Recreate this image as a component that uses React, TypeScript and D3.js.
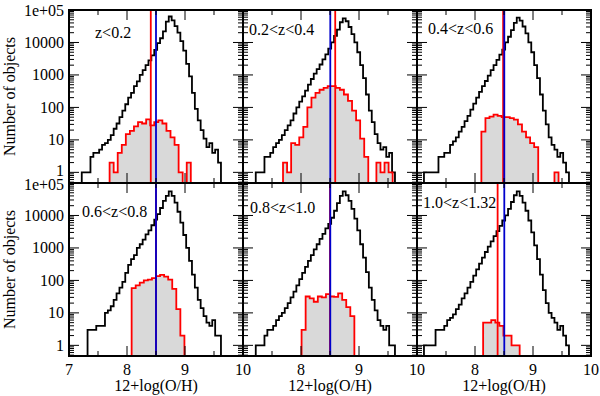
import React from 'react';
import * as d3 from 'd3';

// ---------- data ----------
const zLabels = ['z<0.2', '0.2<z<0.4', '0.4<z<0.6', '0.6<z<0.8', '0.8<z<1.0', '1.0<z<1.32'];

const blackBin = 0.05;
const blackStarts = [7.22, 7.22, 7.12, 7.22, 7.22, 7.12];
const black1 = [1, 1, 1, 3, 4, 4, 5, 7, 8, 10, 14, 22, 32, 50, 80, 125, 200, 280, 450, 630, 1000, 1400, 2000, 2800, 4000, 5900, 9500, 13500, 22000, 44000, 63000, 48000, 32000, 20000, 11000, 5600, 2200, 900, 280, 90, 40, 20, 11, 6, 8, 4, 5, 2];
const black2 = [1, 1, 1, 3, 3, 4, 6, 8, 10, 14, 20, 28, 40, 65, 100, 150, 220, 330, 500, 750, 1100, 1500, 2100, 3000, 4300, 6500, 10000, 16000, 25000, 42000, 55000, 45000, 30000, 18000, 10000, 5000, 2000, 800, 250, 80, 35, 15, 8, 5, 6, 3, 4, 1];
const black3 = [1, 1, 1, 1, 1, 3, 3, 4, 4, 7, 9, 12, 18, 25, 38, 55, 85, 130, 200, 300, 450, 650, 950, 1400, 2000, 2900, 4200, 6000, 10000, 15000, 24000, 40000, 58000, 47000, 31000, 19000, 10000, 5000, 2000, 800, 250, 80, 30, 12, 7, 5, 3, 4, 2, 1];
const black4 = [0, 0, 3, 3, 3, 4, 4, 4, 10, 12, 16, 25, 40, 60, 90, 170, 300, 450, 600, 1000, 1300, 1800, 2600, 3500, 5000, 7500, 11000, 17000, 28000, 40000, 55000, 40000, 25000, 13000, 6000, 2500, 1000, 400, 150, 60, 25, 14, 8, 5, 4, 6, 2, 2];
const black5 = [1, 1, 1, 2, 3, 3, 4, 6, 8, 10, 14, 20, 30, 45, 70, 110, 170, 260, 400, 600, 900, 1300, 1900, 2700, 4000, 5500, 8500, 14000, 24000, 40000, 55000, 42000, 28000, 16000, 8000, 3500, 1300, 500, 180, 60, 25, 12, 6, 4, 3, 4, 1, 1];
const black6 = [1, 1, 1, 1, 3, 3, 3, 4, 6, 7, 9, 13, 18, 28, 40, 60, 90, 140, 220, 330, 500, 750, 1100, 1600, 2300, 3300, 4800, 7000, 10000, 16000, 26000, 42000, 55000, 40000, 25000, 14000, 7000, 3000, 1200, 450, 150, 50, 20, 10, 7, 5, 3, 4, 2, 1];
const blackSeries = [black1, black2, black3, black4, black5, black6];

const redBin = 0.07;
const redStarts = [7.70, 7.69, 8.11, 8.08, 8.01, 8.14];
const red1 = [2, 1, 4, 7, 15, 19, 26, 35, 32, 43, 28, 35, 40, 32, 19, 12, 7, 1, 0, 2];
const red2 = [2, 1, 8, 7, 12, 25, 100, 200, 280, 350, 400, 450, 450, 400, 350, 250, 160, 80, 40, 11, 3, 0, 0, 2, 1, 2, 1];
const red3 = [18, 47, 52, 60, 55, 50, 50, 47, 42, 30, 18, 12, 8, 6, 0, 0, 0, 0, 1];
const red4 = [58, 70, 85, 100, 105, 118, 135, 148, 130, 105, 55, 13, 2];
const red5 = [3, 32, 28, 22, 32, 30, 38, 32, 31, 40, 25, 15, 8];
const red6 = [5, 5, 6, 5, 4, 2, 2, 1, 1];
const redSeries = [red1, red2, red3, red4, red5, red6];

const redLineVals = [8.41, 8.59, 8.485, 8.5, 8.5, 8.39];
const blueLineVals = [8.5, 8.505, 8.505, 8.5, 8.505, 8.505];

const yTickVals = [1, 10, 100, 1000, 10000, 100000];
const yTickLabels = ['1', '10', '100', '1000', '10000', '1e+05'];
const xTickVals = [7, 8, 9, 10];
const xTickLabels = ['7', '8', '9', '10'];
const xLabel = '12+log(O/H)';
const yLabel = 'Number of objects';

// ---------- layout ----------
const colLefts = [69, 243, 417];
const rowTops = [10, 183];
const PW = 174;
const PH = 173;
const labelOffsets: [number, number][] = [
  [26, 28], [6, 25], [11, 24], [13, 34], [7, 30], [6, 25],
];
const FONT = '"Liberation Serif", "DejaVu Serif", serif';

function stepPoints(start: number, bin: number, vals: number[], x: d3.ScaleLinear<number, number>, y: (v: number) => number, bottom: number): [number, number][] {
  const pts: [number, number][] = [[x(start), bottom]];
  vals.forEach((v, i) => {
    const yy = v > 0 ? y(v) : bottom;
    pts.push([x(start + i * bin), yy]);
    pts.push([x(start + (i + 1) * bin), yy]);
  });
  pts.push([x(start + vals.length * bin), bottom]);
  return pts;
}

function Panel({ idx }: { idx: number }) {
  const col = idx % 3;
  const row = Math.floor(idx / 3);
  const left = colLefts[col];
  const top = rowTops[row];
  const x = d3.scaleLinear().domain([7, 10]).range([left, left + PW]);
  const yS = d3.scaleLog().domain([0.47, 1e5]).range([top + PH, top]);
  const bottom = top + PH;
  const y = (v: number) => yS(v);
  const line = d3.line();
  const bPts = stepPoints(blackStarts[idx], blackBin, blackSeries[idx], x, y, bottom);
  const rPts = stepPoints(redStarts[idx], redBin, redSeries[idx], x, y, bottom);
  const clipId = `clip${idx}`;

  const xMinor = d3.range(7, 10.001, 0.5);
  const yMinor: number[] = [];
  [0.1, 1, 10, 100, 1000, 10000].forEach((d) => {
    for (let k = 2; k <= 9; k++) {
      const v = k * d;
      if (v > 0.47 && v < 1e5) yMinor.push(v);
    }
  });

  const ticks: JSX.Element[] = [];
  xMinor.forEach((v, i) => {
    const major = Math.abs(v - Math.round(v)) < 1e-6;
    const len = major ? 10 : 5;
    const xx = x(v);
    ticks.push(<line key={`xb${i}`} x1={xx} x2={xx} y1={bottom} y2={bottom - len} />);
    ticks.push(<line key={`xt${i}`} x1={xx} x2={xx} y1={top} y2={top + len} />);
  });
  yTickVals.forEach((v, i) => {
    const yy = y(v);
    ticks.push(<line key={`yl${i}`} x1={left} x2={left + 10} y1={yy} y2={yy} />);
    ticks.push(<line key={`yr${i}`} x1={left + PW} x2={left + PW - 10} y1={yy} y2={yy} />);
  });
  yMinor.forEach((v, i) => {
    const yy = y(v);
    ticks.push(<line key={`ml${i}`} x1={left} x2={left + 5} y1={yy} y2={yy} />);
    ticks.push(<line key={`mr${i}`} x1={left + PW} x2={left + PW - 5} y1={yy} y2={yy} />);
  });

  const labelNudge = (v: number) => (row === 0 && v === 1 ? -1.5 : row === 1 && v === 1e5 ? 1.5 : 0);

  return (
    <g>
      <defs>
        <clipPath id={clipId}>
          <rect x={left} y={top} width={PW} height={PH} />
        </clipPath>
      </defs>
      <g clipPath={`url(#${clipId})`}>
        <path d={line(rPts) || ''} fill="#d9d9d9" stroke="none" />
        <path d={line(bPts) || ''} fill="none" stroke="#000" strokeWidth={1.8} />
        <path d={line(rPts) || ''} fill="none" stroke="#ff0000" strokeWidth={1.8} />
        <line x1={x(redLineVals[idx])} x2={x(redLineVals[idx])} y1={top} y2={bottom} stroke="#ff0000" strokeWidth={1.8} />
        <line x1={x(blueLineVals[idx])} x2={x(blueLineVals[idx])} y1={top} y2={bottom} stroke="#0000cc" strokeWidth={1.8} />
      </g>
      <g stroke="#000" strokeWidth={1}>{ticks}</g>
      <rect x={left} y={top} width={PW} height={PH} fill="none" stroke="#000" strokeWidth={2} />
      <text x={left + labelOffsets[idx][0]} y={top + labelOffsets[idx][1]} fontFamily={FONT} fontSize={16} fill="#000">
        {zLabels[idx]}
      </text>
      {col === 0 &&
        yTickVals.map((v, i) => (
          <text key={`yl${i}`} x={left - 5} y={y(v) + labelNudge(v)} textAnchor="end" dominantBaseline="central" fontFamily={FONT} fontSize={16} fill="#000">
            {yTickLabels[i]}
          </text>
        ))}
      {row === 1 &&
        xTickVals.map((v, i) =>
          col > 0 && i === 0 ? null : (
            <text key={`xl${i}`} x={x(v)} y={375} textAnchor="middle" fontFamily={FONT} fontSize={16} fill="#000">
              {xTickLabels[i]}
            </text>
          )
        )}
      {row === 1 && (
        <text x={left + PW / 2} y={391} textAnchor="middle" fontFamily={FONT} fontSize={16} fill="#000">
          {xLabel}
        </text>
      )}
      {col === 0 && (
        <text transform={`translate(15,${top + PH / 2}) rotate(-90)`} textAnchor="middle" fontFamily={FONT} fontSize={16} fill="#000">
          {yLabel}
        </text>
      )}
    </g>
  );
}

export default function App() {
  return (
    <svg width={600} height={396} style={{ position: 'absolute', left: 0, top: 0, background: '#fff' }}>
      <rect x={0} y={0} width={600} height={396} fill="#fff" />
      {[0, 1, 2, 3, 4, 5].map((i) => (
        <Panel key={i} idx={i} />
      ))}
    </svg>
  );
}
